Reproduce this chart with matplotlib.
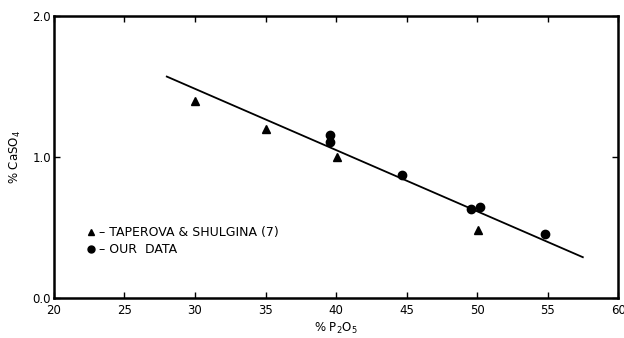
import numpy as np
import matplotlib
matplotlib.use('Agg')
from matplotlib import pyplot as plt

# data
tri_x = [30.0, 35.0, 40.1, 50.1]                  # Taperova & Shulgina
tri_y = [1.40, 1.20, 1.00, 0.48]
dot_x = [39.6, 39.6, 44.7, 49.6, 50.2, 54.8]      # our data
dot_y = [1.155, 1.105, 0.87, 0.63, 0.645, 0.455]
fit_x = [28.0, 57.5]                              # fitted line ends
fit_y = [1.57, 0.29]

x_ticks = [20, 25, 30, 35, 40, 45, 50, 55, 60]
y_ticks = [0.0, 1.0, 2.0]

fig = plt.figure(figsize=(6.24, 3.38), dpi=100)
ax = fig.add_axes([0.0865, 0.118, 0.904, 0.835])

ax.plot(fit_x, fit_y, color="black", linewidth=1.3, zorder=2)
ax.plot(tri_x, tri_y, linestyle="none", marker="^", color="black", markersize=6, zorder=3)
ax.plot(dot_x, dot_y, linestyle="none", marker="o", color="black", markersize=6, zorder=3)

ax.set_xlim(20, 60)
ax.set_ylim(0, 2)
ax.set_xticks(x_ticks)
ax.set_yticks(y_ticks)
ax.set_yticklabels([f"{v:.1f}" for v in y_ticks])
ax.tick_params(direction="in", length=4, width=1, labelsize=8.5, pad=2,
               top=True, right=True)
ax.tick_params(axis="x", pad=4)
for s in ax.spines.values():
    s.set_linewidth(1.8)

ax.set_xlabel("% P$_2$O$_5$", fontsize=8.5, labelpad=3)
ax.set_ylabel("% CaSO$_4$", fontsize=8.5, labelpad=7)

# legend drawn as text with markers, like the original
ax.plot([22.6], [0.465], linestyle="none", marker="^", color="black", markersize=5, clip_on=False)
ax.plot([22.6], [0.345], linestyle="none", marker="o", color="black", markersize=5, clip_on=False)
ax.text(23.2, 0.465, "– TAPEROVA & SHULGINA (7)", fontsize=9, va="center", ha="left")
ax.text(23.2, 0.345, "– OUR  DATA", fontsize=9, va="center", ha="left")

fig.savefig("out.png", dpi=100)
